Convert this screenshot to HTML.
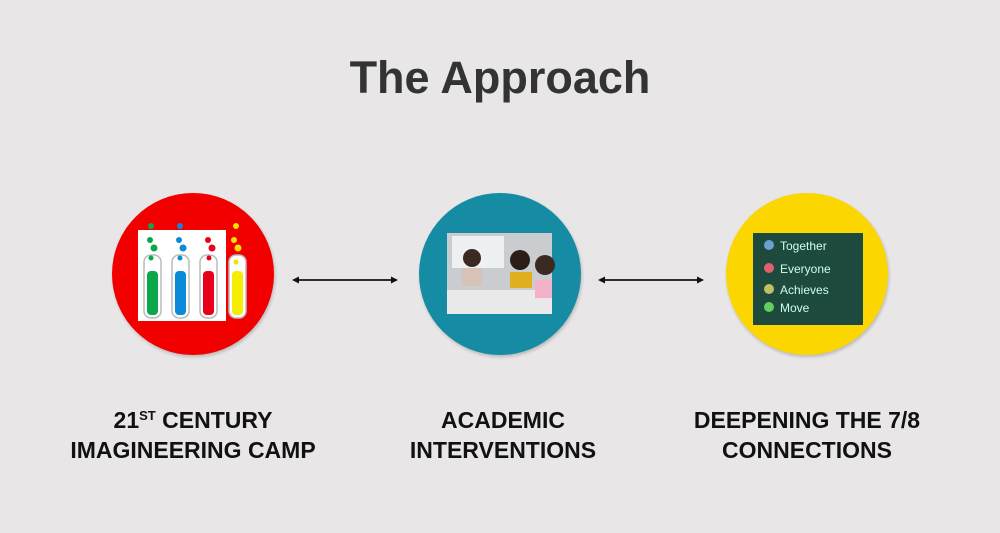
<!DOCTYPE html>
<html><head><style>
body{margin:0;width:1000px;height:533px;background:#e8e6e7;position:relative;overflow:hidden;font-family:"Liberation Sans",sans-serif}
.t{position:absolute;left:0;width:1000px;top:52px;text-align:center;font-size:45px;font-weight:bold;color:#333}
.l{position:absolute;width:340px;text-align:center;font-size:23px;font-weight:bold;color:#111;line-height:30px;top:405px}
.l sup{font-size:13px;line-height:0;vertical-align:8px}
.c{position:absolute;border-radius:50%;width:162px;height:162px;top:193px;box-shadow:1px 2px 3px rgba(0,0,0,.2)}
</style></head><body>
<div class="t">The Approach</div>
<div class="c" style="left:112px;background:#f20000"></div>
<div class="c" style="left:419px;background:#158ca3"></div>
<div class="c" style="left:726px;background:#fcd600"></div>
<svg width="1000" height="533" style="position:absolute;left:0;top:0">
<rect x="138" y="230" width="88" height="91" fill="#fff"/>
<g stroke="#bbb" stroke-width="1.5" fill="#fff">
<rect x="144" y="255" width="17" height="63" rx="7"/>
<rect x="172" y="255" width="17" height="63" rx="7"/>
<rect x="200" y="255" width="17" height="63" rx="7"/>
<rect x="229" y="255" width="17" height="63" rx="7"/>
</g>
<rect x="147" y="271" width="11" height="44" rx="4" fill="#0aa84a"/>
<rect x="175" y="271" width="11" height="44" rx="4" fill="#0a8ad8"/>
<rect x="203" y="271" width="11" height="44" rx="4" fill="#e8001a"/>
<rect x="232" y="271" width="11" height="44" rx="4" fill="#f5ee00"/>
<g fill="#0aa84a"><circle cx="151" cy="226" r="3"/><circle cx="150" cy="240" r="3"/><circle cx="154" cy="248" r="3.5"/><circle cx="151" cy="258" r="2.5"/></g>
<g fill="#0a8ad8"><circle cx="180" cy="226" r="3"/><circle cx="179" cy="240" r="3"/><circle cx="183" cy="248" r="3.5"/><circle cx="180" cy="258" r="2.5"/></g>
<g fill="#e8001a"><circle cx="208" cy="240" r="3"/><circle cx="212" cy="248" r="3.5"/><circle cx="209" cy="258" r="2.5"/></g>
<g fill="#f5e000"><circle cx="236" cy="226" r="3"/><circle cx="234" cy="240" r="3"/><circle cx="238" cy="248" r="3.5"/><circle cx="236" cy="262" r="2.5"/></g>
<rect x="447" y="233" width="105" height="81" fill="#c9cdd0"/>
<rect x="452" y="236" width="52" height="32" fill="#eef0f2"/>
<rect x="447" y="290" width="105" height="24" fill="#e9e9ea"/>
<circle cx="472" cy="258" r="9" fill="#3a2a22"/><rect x="462" y="268" width="20" height="18" fill="#d7c3b5"/>
<circle cx="520" cy="260" r="10" fill="#2b1d17"/><rect x="510" y="272" width="22" height="16" fill="#e0b020"/>
<circle cx="545" cy="265" r="10" fill="#3a2a22"/><rect x="535" y="280" width="17" height="18" fill="#f3b0c8"/>
<rect x="753" y="233" width="110" height="92" fill="#1e4a3e"/>
<g font-family="Liberation Sans" font-size="12" fill="#cfe">
<circle cx="769" cy="245" r="5" fill="#6aa0d0"/><text x="780" y="250">Together</text>
<circle cx="769" cy="268" r="5" fill="#e06070"/><text x="780" y="273">Everyone</text>
<circle cx="769" cy="289" r="5" fill="#c0c060"/><text x="780" y="294">Achieves</text>
<circle cx="769" cy="307" r="5" fill="#60d060"/><text x="780" y="312">Move</text>
</g>
<g stroke="#111" stroke-width="1.8"><line x1="297" y1="280" x2="394" y2="280"/><line x1="603" y1="280" x2="699" y2="280"/></g>
<g fill="#111"><path d="M292 280l7-3.5v7z"/><path d="M398 280l-7-3.5v7z"/><path d="M598 280l7-3.5v7z"/><path d="M704 280l-7-3.5v7z"/></g>
</svg>
<div class="l" style="left:23px">21<sup>ST</sup> CENTURY<br>IMAGINEERING CAMP</div>
<div class="l" style="left:333px">ACADEMIC<br>INTERVENTIONS</div>
<div class="l" style="left:637px">DEEPENING THE 7/8<br>CONNECTIONS</div>
</body></html>
